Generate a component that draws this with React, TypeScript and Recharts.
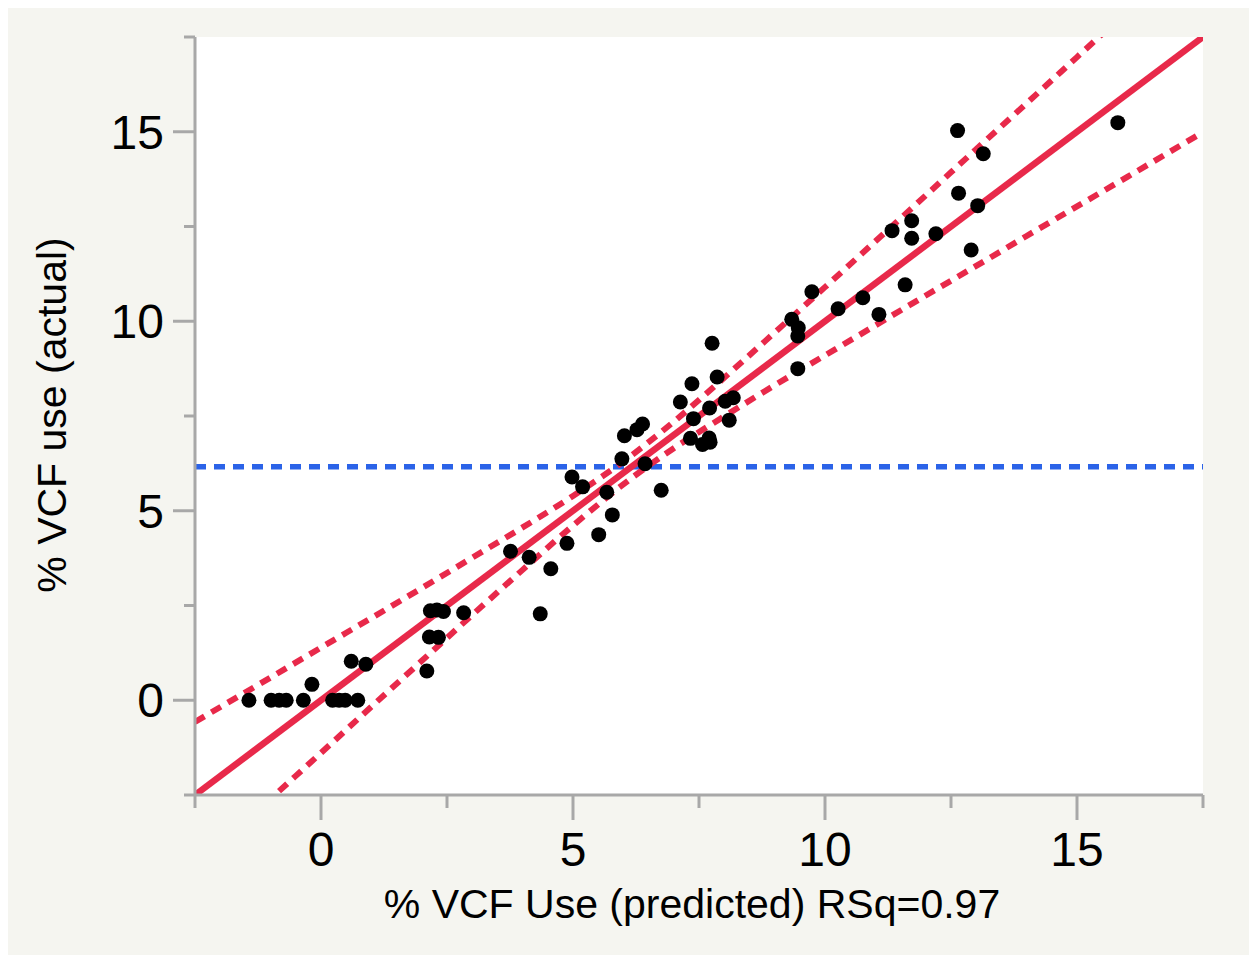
import { ComposedChart, Line, Scatter, XAxis, YAxis, CartesianGrid } from "recharts";

const predicted = [
  -1.43, -0.99, -0.83, -0.69, -0.35, -0.18, 0.23, 0.36, 0.48, 0.73, 0.6, 0.89,
  2.17, 2.3, 2.43, 2.83, 2.15, 2.33, 2.1,
  7.76, 7.36, 7.86, 7.13, 7.71, 8.02, 8.18, 7.39, 8.1, 7.33, 7.57, 7.7, 7.72,
  6.02, 6.27, 6.38, 5.97, 6.43, 4.98, 5.19, 5.67, 6.75, 5.78, 5.51, 4.88, 3.76, 4.13, 4.56, 4.35,
  13.03, 11.72, 11.33, 11.72, 12.2, 12.9, 11.59, 9.74, 10.75, 10.26, 11.07, 9.34, 9.47, 9.46, 9.46,
  12.63, 15.81, 13.14, 12.65,
];
const actual = [
  0, 0, 0, 0, 0, 0.42, 0, 0, 0, 0, 1.03, 0.95,
  2.36, 2.38, 2.34, 2.31, 1.67, 1.66, 0.77,
  9.42, 8.35, 8.53, 7.87, 7.71, 7.89, 7.98, 7.43, 7.39, 6.91, 6.75, 6.92, 6.81,
  6.98, 7.14, 7.29, 6.37, 6.24, 5.89, 5.63, 5.49, 5.54, 4.89, 4.37, 4.14, 3.93, 3.77, 3.47, 2.28,
  13.05, 12.65, 12.39, 12.19, 12.31, 11.88, 10.96, 10.78, 10.62, 10.33, 10.18, 10.05, 9.83, 9.61, 8.75,
  15.03, 15.24, 14.42, 13.38,
];

const fitX = [-2.5, 17.5];
const fitY = [-2.5, 17.5];

const bandX = [-2.5, -1, 0, 1, 2, 3, 4, 5, 6.15, 7, 8, 9, 10, 11, 12, 13, 14, 15, 16, 17.5];
const bandUpper = [-0.57, 0.6, 1.39, 2.17, 2.96, 3.76, 4.56, 5.39, 6.45, 7.35, 8.51, 9.7, 10.9, 12.11, 13.32, 14.54, 15.75, 16.97, 18.19, 20.02];
const bandLower = [-4.43, -2.6, -1.39, -0.17, 1.04, 2.25, 3.44, 4.61, 5.85, 6.65, 7.49, 8.31, 9.1, 9.89, 10.68, 11.46, 12.25, 13.03, 13.81, 14.99];

const meanActual = 6.16;

const ticks = [-2.5, 0, 2.5, 5, 7.5, 10, 12.5, 15, 17.5];

const dots = predicted.map((x, i) => ({ x, y: actual[i] }));
const fit = fitX.map((x, i) => ({ x, y: fitY[i] }));
const upper = bandX.map((x, i) => ({ x, y: bandUpper[i] }));
const lower = bandX.map((x, i) => ({ x, y: bandLower[i] }));
const mean = fitX.map((x) => ({ x, y: meanActual }));

const FONT = "'Liberation Sans', Arial, Helvetica, sans-serif";
const GREY = "#a8a8a8";
const RED = "#e8294a";
const BLUE = "#2b63e8";

const isMajor = (v: number) => v % 5 === 0;

const XTick = ({ x, y, payload }: any) => {
  const major = isMajor(payload.value);
  return (
    <g>
      <line x1={x} x2={x} y1={y} y2={y + (major ? 25 : 13)} stroke={GREY} strokeWidth={3} />
      {major && (
        <text x={x} y={y + 71} textAnchor="middle" fontSize={48} fill="#000" fontFamily={FONT}>
          {payload.value}
        </text>
      )}
    </g>
  );
};

const YTick = ({ x, y, payload }: any) => {
  const major = isMajor(payload.value);
  return (
    <g>
      <line x1={x} x2={x - (major ? 22 : 11)} y1={y} y2={y} stroke={GREY} strokeWidth={3} />
      {major && (
        <text x={x - 31} y={y + 17} textAnchor="end" fontSize={48} fill="#000" fontFamily={FONT}>
          {payload.value}
        </text>
      )}
    </g>
  );
};

export default function App() {
  return (
    <div style={{ width: 1246, height: 950, background: "#f5f5f0", marginTop: -3, fontFamily: FONT }}>
      <ComposedChart width={1246} height={950} margin={{ top: 32, right: 51, left: 0, bottom: 0 }}>
        <CartesianGrid horizontal={false} vertical={false} fill="#ffffff" />
        <XAxis
          xAxisId={0}
          dataKey="x"
          type="number"
          domain={[-2.5, 17.5]}
          allowDataOverflow
          ticks={ticks}
          interval={0}
          height={160}
          tickSize={0}
          tickMargin={0}
          tickLine={false}
          axisLine={{ stroke: GREY, strokeWidth: 3 }}
          tick={<XTick />}
          label={{
            content: () => (
              <text x={684} y={913} textAnchor="middle" fontSize={41} fill="#000" fontFamily={FONT}>
                % VCF Use (predicted) RSq=0.97
              </text>
            ),
          }}
        />
        <XAxis
          xAxisId="top"
          orientation="top"
          dataKey="x"
          type="number"
          domain={[-2.5, 17.5]}
          allowDataOverflow
          height={0}
          tick={false}
          tickLine={false}
          axisLine={{ stroke: GREY, strokeWidth: 3 }}
        />
        <YAxis
          yAxisId={0}
          type="number"
          domain={[-2.5, 17.5]}
          allowDataOverflow
          ticks={ticks}
          interval={0}
          width={187}
          tickSize={0}
          tickMargin={0}
          tickLine={false}
          axisLine={{ stroke: GREY, strokeWidth: 3 }}
          tick={<YTick />}
          label={{
            content: () => (
              <text
                x={58}
                y={410}
                transform="rotate(-90 58 410)"
                textAnchor="middle"
                fontSize={41}
                fill="#000"
                fontFamily={FONT}
              >
                % VCF use (actual)
              </text>
            ),
          }}
        />
        <YAxis
          yAxisId="right"
          orientation="right"
          type="number"
          domain={[-2.5, 17.5]}
          allowDataOverflow
          width={0}
          tick={false}
          tickLine={false}
          axisLine={{ stroke: GREY, strokeWidth: 3 }}
        />
        <Line data={mean} dataKey="y" type="linear" stroke={BLUE} strokeWidth={5.5} strokeDasharray="11 8" dot={false} activeDot={false} isAnimationActive={false} />
        <Line data={upper} dataKey="y" type="monotone" stroke={RED} strokeWidth={6} strokeDasharray="11 8" dot={false} activeDot={false} isAnimationActive={false} />
        <Line data={lower} dataKey="y" type="monotone" stroke={RED} strokeWidth={6} strokeDasharray="11 8" dot={false} activeDot={false} isAnimationActive={false} />
        <Line data={fit} dataKey="y" type="linear" stroke={RED} strokeWidth={6.5} dot={false} activeDot={false} isAnimationActive={false} />
        <Scatter
          data={dots}
          dataKey="y"
          fill="#000"
          isAnimationActive={false}
          shape={(p: any) => <circle cx={p.cx} cy={p.cy} r={7.5} fill="#000" />}
        />
      </ComposedChart>
    </div>
  );
}
